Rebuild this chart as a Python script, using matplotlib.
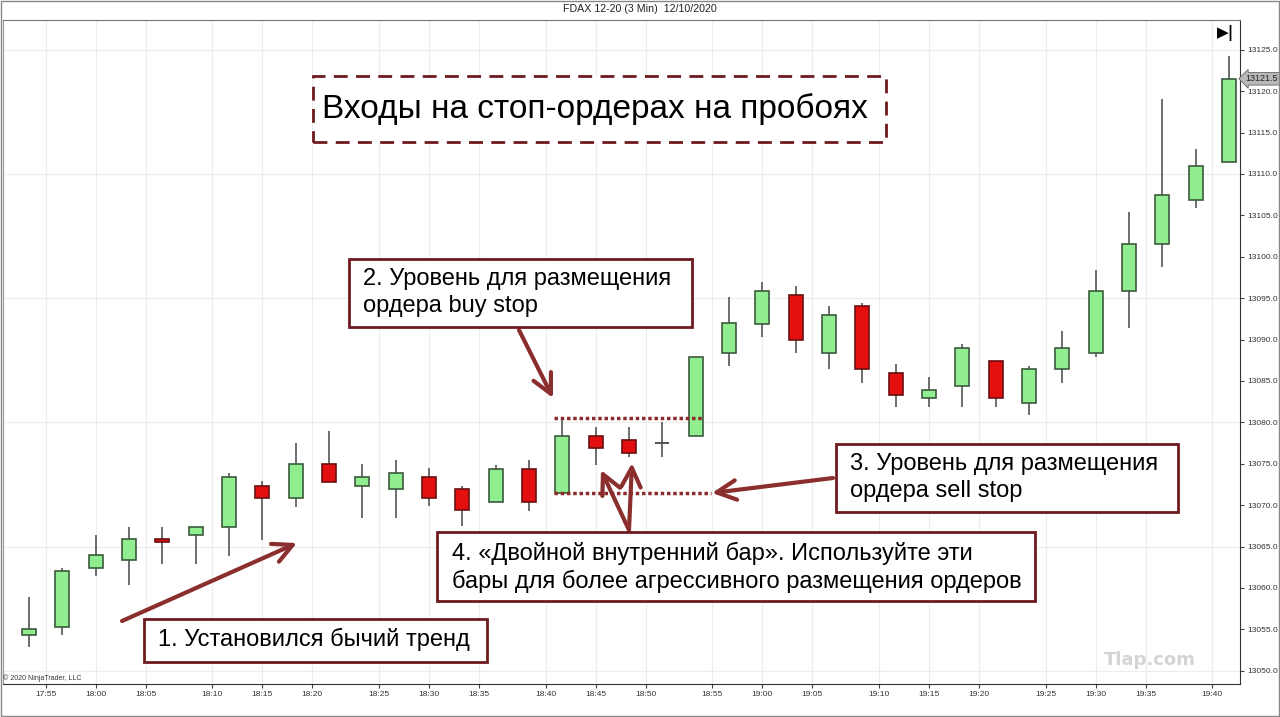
import matplotlib.pyplot as plt
from matplotlib.patches import Rectangle, ArrowStyle

plt.rcParams['font.family'] = ['Liberation Sans', 'DejaVu Sans']

# 3-minute bars, 17:54 .. 19:42
opens = [13054.3, 13055.3, 13062.4, 13063.4, 13065.9, 13066.4, 13067.4, 13072.3, 13070.9, 13075.0,
         13072.3, 13071.9, 13073.4, 13071.9, 13070.4, 13074.4, 13071.5, 13078.4, 13077.9, 13077.5,
         13078.4, 13088.4, 13091.9, 13095.4, 13088.4, 13094.0, 13086.0, 13082.9, 13084.4, 13087.4,
         13082.4, 13086.5, 13088.4, 13095.9, 13101.6, 13106.9, 13111.5]
highs = [13058.9, 13062.4, 13066.4, 13067.4, 13067.4, 13067.4, 13073.9, 13072.9, 13077.5, 13079.0,
         13075.0, 13075.4, 13074.5, 13072.3, 13074.9, 13075.5, 13080.5, 13079.4, 13079.4, 13080.0,
         13087.9, 13095.2, 13097.0, 13096.5, 13094.0, 13094.4, 13087.0, 13085.5, 13089.5, 13087.4,
         13086.8, 13091.0, 13098.4, 13105.4, 13119.1, 13113.0, 13124.2]
lows = [13052.9, 13054.3, 13061.4, 13060.4, 13062.9, 13062.9, 13063.9, 13065.8, 13069.8, 13072.8,
        13068.4, 13068.4, 13069.9, 13067.5, 13070.4, 13069.3, 13071.5, 13074.9, 13075.8, 13075.8,
        13078.4, 13086.8, 13090.3, 13088.4, 13086.5, 13084.8, 13081.9, 13081.9, 13081.9, 13081.9,
        13080.9, 13084.8, 13087.9, 13091.4, 13098.8, 13105.9, 13111.5]
closes = [13055.0, 13062.0, 13064.0, 13065.9, 13065.5, 13067.4, 13073.4, 13070.9, 13075.0, 13072.8,
          13073.4, 13073.9, 13070.9, 13069.4, 13074.4, 13070.4, 13078.4, 13076.9, 13076.3, 13077.5,
          13087.9, 13092.0, 13095.9, 13090.0, 13093.0, 13086.5, 13083.3, 13083.9, 13089.0, 13083.0,
          13086.5, 13089.0, 13095.9, 13101.6, 13107.5, 13111.0, 13121.5]

tick_labels = ['17:55', '18:00', '18:05', '18:10', '18:15', '18:20', '18:25', '18:30', '18:35', '18:40',
               '18:45', '18:50', '18:55', '19:00', '19:05', '19:10', '19:15', '19:20', '19:25', '19:30',
               '19:35', '19:40']
tick_pos = [0.5, 2, 3.5, 5.5, 7, 8.5, 10.5, 12, 13.5, 15.5, 17, 18.5, 20.5, 22, 23.5, 25.5, 27, 28.5,
            30.5, 32, 33.5, 35.5]

breakout_bar = 16
last_price = closes[-1]

W, H = 1280, 717
fig = plt.figure(figsize=(12.8, 7.17), dpi=100)
ax = fig.add_axes([3 / W, 1 - 684 / H, 1237 / W, 664 / H])

def fx(x):
    return x / W

def fy(y):
    return 1 - y / H

# candles
idx = list(range(len(opens)))
up_col, dn_col = '#90ee90', '#e41010'
ax.vlines(idx, lows, highs, color='#555555', lw=1.2, zorder=2)
bottoms = [min(o, c) for o, c in zip(opens, closes)]
heights = [abs(c - o) for o, c in zip(opens, closes)]
faces = [up_col if c >= o else dn_col for o, c in zip(opens, closes)]
edges = ['#3c5a3c' if c >= o else '#6a1010' for o, c in zip(opens, closes)]
ax.bar(idx, heights, bottom=bottoms, width=0.42, color=faces, edgecolor=edges, lw=1.2, zorder=3)
# doji
for i in idx:
    if heights[i] == 0:
        ax.hlines(opens[i], i - 0.21, i + 0.21, color='#555555', lw=1.2, zorder=3)

ax.set_xlim(-0.78, 36.33)
ax.set_ylim(13048.4, 13128.6)
ax.set_xticks(tick_pos)
ax.set_xticklabels(tick_labels, fontsize=6)
ax.set_yticks([13050 + 5 * k for k in range(16)])
ax.set_yticklabels(['%.1f' % (13050 + 5 * k) for k in range(16)], fontsize=6)
ax.yaxis.tick_right()
ax.tick_params(length=3, width=0.8, colors='#444444', pad=2)
for lab in ax.get_xticklabels() + ax.get_yticklabels():
    lab.set_color('#333333')
for k in tick_pos:
    ax.axvline(k, color='#ececec', lw=0.8, zorder=0)
for v in [13050, 13065, 13080, 13095, 13110, 13125]:
    ax.axhline(v, color='#ececec', lw=0.8, zorder=0)
ax.spines['left'].set_color('#999999')
ax.spines['top'].set_color('#777777')
ax.spines['right'].set_color('#333333')
ax.spines['bottom'].set_color('#333333')

# breakout levels
dot_col = '#8b2b2b'
ax.hlines(highs[breakout_bar], breakout_bar - 0.25, 20.2, colors=dot_col, linestyles=(0, (1, 0.8)),
          lw=2.5, zorder=4)
ax.hlines(lows[breakout_bar], breakout_bar - 0.25, 20.45, colors=dot_col, linestyles=(0, (1, 0.8)),
          lw=2.5, zorder=4)

# last price tag
ax.annotate('%.1f' % last_price, xy=(1.0, last_price), xycoords=ax.get_yaxis_transform(),
            xytext=(4, 0), textcoords='offset points', fontsize=6.5, va='center', ha='left',
            color='#222222',
            bbox=dict(boxstyle='larrow,pad=0.2', fc='#b8b8b8', ec='#666666', lw=0.6),
            annotation_clip=False)

# header / footer
fig.text(0.5, fy(9), 'FDAX 12-20 (3 Min)  12/10/2020', fontsize=7.7, ha='center', va='center',
         color='#222222')
fig.text(fx(1226), fy(33), '▶|', fontsize=11, ha='center', va='center', color='black',
         family=['DejaVu Sans'], fontweight='bold')
fig.text(fx(3), fy(678), '© 2020 NinjaTrader, LLC', fontsize=5, ha='left', va='center',
         color='#333333')
fig.text(fx(1150), fy(660), 'Tlap.com', fontsize=13, ha='center', va='center', color='#d4d4d4',
         fontweight='bold', family=['DejaVu Sans'])
fig.patches.append(Rectangle((0.0005, 0.001), 0.999, 0.998, transform=fig.transFigure,
                             fill=False, ec='#888888', lw=1))

box_col = '#6e1a1f'
arr_col = '#8b2e2e'

def box(x0, y0, x1, y1, dashed=False):
    r = Rectangle((fx(x0), fy(y1)), (x1 - x0) / W, (y1 - y0) / H, transform=fig.transFigure,
                  fc='white', ec=box_col, lw=2, ls=(0, (5, 3)) if dashed else '-', zorder=5)
    fig.patches.append(r)

def label(x, y, s, size=17):
    fig.text(fx(x), fy(y), s, fontsize=size, ha='left', va='center', color='black', zorder=6)

def arrow(x0, y0, x1, y1):
    ax.annotate('', xy=(fx(x1), fy(y1)), xytext=(fx(x0), fy(y0)), xycoords='figure fraction',
                textcoords='figure fraction', annotation_clip=False,
                arrowprops=dict(arrowstyle=ArrowStyle('->', head_length=0.7, head_width=0.35),
                                color=arr_col, lw=3, mutation_scale=20, shrinkA=0, shrinkB=0))

box(313, 76, 886, 142, dashed=True)
label(322, 109, 'Входы на стоп-ордерах на пробоях', 24)

box(349, 259, 692, 327)
label(363, 279, '2. Уровень для размещения')
label(363, 306, 'ордера buy stop')

box(836, 444, 1178, 512)
label(850, 464, '3. Уровень для размещения')
label(850, 491, 'ордера sell stop')

box(437, 532, 1035, 601)
label(452, 553, '4. «Двойной внутренний бар». Используйте эти')
label(452, 581, 'бары для более агрессивного размещения ордеров')

box(144, 619, 487, 662)
label(158, 639, '1. Установился бычий тренд')

arrow(122, 621, 297, 543)
arrow(519, 330, 553, 398)
arrow(833, 478, 712, 493)
arrow(629, 530, 601, 470)
arrow(629, 530, 632, 463)

fig.savefig('out.png', dpi=100, facecolor='white')
